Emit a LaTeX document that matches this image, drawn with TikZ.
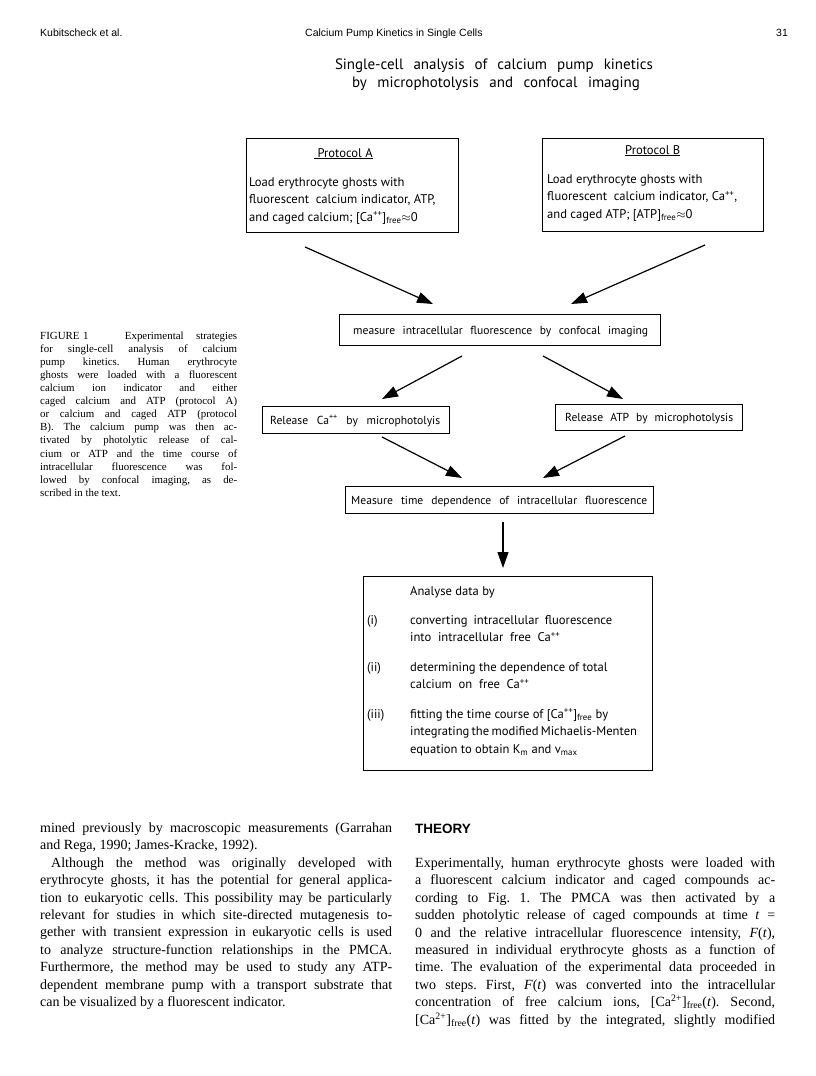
\documentclass[tikz,border=0pt]{standalone}
\usepackage{fontspec}
\setmainfont{Liberation Serif}
\newfontfamily\hdrfont{Liberation Sans}
\newfontfamily\dgfont{PT Sans}
\usetikzlibrary{arrows.meta}
\newcommand\jl[2]{\makebox[#1][s]{#2}}
\newcommand\sups[1]{\textsuperscript{#1}}
\newcommand\subs[1]{\textsubscript{#1}}
\begin{document}
\frenchspacing
\begin{tikzpicture}[x=1pt,y=-1pt,
  box/.style={draw, line width=1.1pt, inner sep=0pt, anchor=north west},
  arr/.style={line width=1.2pt, -{Triangle[length=16pt,width=11pt]}},
  txt/.style={inner sep=0pt, anchor=base west},
  ctxt/.style={inner sep=0pt, anchor=base},
  para/.style={inner sep=0pt, anchor=north west, align=left},
  hdr/.style={font=\hdrfont\fontsize{10.5}{12}\selectfont},
  dg/.style={font=\dgfont\fontsize{12.6}{17.5}\selectfont\frenchspacing},
  dgs/.style={font=\dgfont\fontsize{11.6}{17}\selectfont\frenchspacing},
  captext/.style={font=\fontsize{10.9}{13.1}\selectfont\frenchspacing},
  body/.style={font=\fontsize{14}{17.45}\selectfont\frenchspacing},
]
\useasboundingbox (0,0) rectangle (816,1076);
\fill[white] (0,0) rectangle (816,1076);

% header
\node[txt,hdr] (h1) at (40,36) {Kubitscheck et al.};
\node[txt,hdr] (h2) at (305,36) {Calcium Pump Kinetics in Single Cells};
\node[txt,hdr] (h3) at (776,36) {31};

% title
\node[ctxt,font=\dgfont\fontsize{15}{18}\selectfont] (t1) at (494,69) {\jl{318pt}{Single-cell analysis of calcium pump kinetics}};
\node[ctxt,font=\dgfont\fontsize{15}{18}\selectfont] (t2) at (496,87) {\jl{288pt}{by microphotolysis and confocal imaging}};

% protocol boxes
\node[box, minimum width=212pt, minimum height=94pt] (pa) at (246,138) {};
\node[txt,dg] (paT) at (314,157) {\underline{\ Protocol A}};
\node[para,dg] (paX) at (249,173.75) {\strut Load erythrocyte ghosts with\\
fluorescent\ \ calcium indicator, ATP,\\
and caged calcium; [Ca\sups{++}]\subs{free}$\approx$0};

\node[box, minimum width=221pt, minimum height=93pt] (pb) at (542,138) {};
\node[txt,dg] (pbT) at (625,154) {\underline{Protocol B}};
\node[para,dg] (pbX) at (547,170.75) {\strut Load erythrocyte ghosts with\\
fluorescent\ \ calcium indicator, Ca\sups{++},\\
and caged ATP; [ATP]\subs{free}$\approx$0};

% measure box
\node[box, minimum width=321pt, minimum height=31pt] (mb) at (339,314) {};
\node[txt,dgs] (mbT) at (353,334) {\jl{295pt}{measure intracellular fluorescence by confocal imaging}};

% release boxes
\node[box, minimum width=187pt, minimum height=27pt] (rc) at (262,406) {};
\node[txt,dgs] (rcT) at (270,424) {\jl{170pt}{Release Ca\sups{++} by microphotolyis}};
\node[box, minimum width=187pt, minimum height=26pt] (ra) at (555,404) {};
\node[txt,dgs] (raT) at (565,421) {\jl{168pt}{Release ATP by microphotolysis}};

% measure time box
\node[box, minimum width=308pt, minimum height=27pt] (mt) at (345,486) {};
\node[txt,dgs] (mtT) at (351,504) {\jl{296pt}{Measure time dependence of intracellular fluorescence}};

% analyse box
\node[box, minimum width=289pt, minimum height=194pt] (an) at (363,576) {};
\node[txt,dg] (an0) at (410,595) {Analyse data by};
\node[txt,dg] (an1l) at (367,624) {(i)};
\node[para,dg] (an1) at (410,611.75) {\strut\jl{202pt}{converting intracellular fluorescence}\\
into\ \ intracellular\ \ free\ \ Ca\sups{++}};
\node[txt,dg] (an2l) at (367,671) {(ii)};
\node[para,dg] (an2) at (410,658.75) {\strut determining the dependence of total\\
calcium\ \ on\ \ free\ \ Ca\sups{++}};
\node[txt,dg] (an3l) at (367,718) {(iii)};
\node[para,dg] (an3) at (410,705.75) {\strut fitting the time course of [Ca\sups{++}]\subs{free} by\\
\jl{218pt}{integrating the modified Michaelis-Menten}\\
equation to obtain K\subs{m} and v\subs{max}};

% arrows
\coordinate (a1s) at (305,247); \coordinate (a1e) at (433,304);
\coordinate (a2s) at (705,245); \coordinate (a2e) at (571,304);
\coordinate (a3s) at (462,356); \coordinate (a3e) at (382,399);
\coordinate (a4s) at (543,356); \coordinate (a4e) at (623,399);
\coordinate (a5s) at (382,437); \coordinate (a5e) at (462,478);
\coordinate (a6s) at (625,436); \coordinate (a6e) at (543,478);
\coordinate (a7s) at (503,522); \coordinate (a7e) at (503,568);
\draw[arr] (a1s) -- (a1e);
\draw[arr] (a2s) -- (a2e);
\draw[arr] (a3s) -- (a3e);
\draw[arr] (a4s) -- (a4e);
\draw[arr] (a5s) -- (a5e);
\draw[arr] (a6s) -- (a6e);
\draw[arr] (a7s) -- (a7e);

% caption
\node[para,captext] (figcap) at (40,329.8) {\strut\jl{197pt}{FIGURE\kern3.5pt1\hspace{8pt plus 4pt}Experimental strategies}\\
\jl{197pt}{for single-cell analysis of calcium}\\
\jl{197pt}{pump kinetics. Human erythrocyte}\\
\jl{197pt}{ghosts were loaded with a fluorescent}\\
\jl{197pt}{calcium ion indicator and either}\\
\jl{197pt}{caged calcium and ATP (protocol A)}\\
\jl{197pt}{or calcium and caged ATP (protocol}\\
\jl{197pt}{B). The calcium pump was then ac-}\\
\jl{197pt}{tivated by photolytic release of cal-}\\
\jl{197pt}{cium or ATP and the time course of}\\
\jl{197pt}{intracellular fluorescence was fol-}\\
\jl{197pt}{lowed by confocal imaging, as de-}\\
scribed in the text.};

% left column
\node[para,body] (lc) at (40,819.8) {\strut\jl{352pt}{mined previously by macroscopic measurements (Garrahan}\\
and Rega, 1990; James-Kracke, 1992).\\
\jl{352pt}{\hspace*{11pt}Although the method was originally developed with}\\
\jl{352pt}{erythrocyte ghosts, it has the potential for general applica-}\\
\jl{352pt}{tion to eukaryotic cells. This possibility may be particularly}\\
\jl{352pt}{relevant for studies in which site-directed mutagenesis to-}\\
\jl{352pt}{gether with transient expression in eukaryotic cells is used}\\
\jl{352pt}{to analyze structure-function relationships in the PMCA.}\\
\jl{352pt}{Furthermore, the method may be used to study any ATP-}\\
\jl{352pt}{dependent membrane pump with a transport substrate that}\\
can be visualized by a fluorescent indicator.};

% right column
\node[txt,font=\hdrfont\bfseries\fontsize{13.5}{16}\selectfont] (th) at (415,833) {THEORY};
\node[para,body] (rc2) at (415,854.8) {\strut\jl{360pt}{Experimentally, human erythrocyte ghosts were loaded with}\\
\jl{360pt}{a fluorescent calcium indicator and caged compounds ac-}\\
\jl{360pt}{cording to Fig. 1. The PMCA was then activated by a}\\
\jl{360pt}{sudden photolytic release of caged compounds at time \textit{t} =}\\
\jl{360pt}{0 and the relative intracellular fluorescence intensity, \textit{F}(\textit{t}),}\\
\jl{360pt}{measured in individual erythrocyte ghosts as a function of}\\
\jl{360pt}{time. The evaluation of the experimental data proceeded in}\\
\jl{360pt}{two steps. First, \textit{F}(\textit{t}) was converted into the intracellular}\\
\jl{360pt}{concentration of free calcium ions, [Ca\sups{2+}]\subs{free}(\textit{t}). Second,}\\
\jl{360pt}{[Ca\sups{2+}]\subs{free}(\textit{t}) was fitted by the integrated, slightly modified}};
\end{tikzpicture}
\end{document}
